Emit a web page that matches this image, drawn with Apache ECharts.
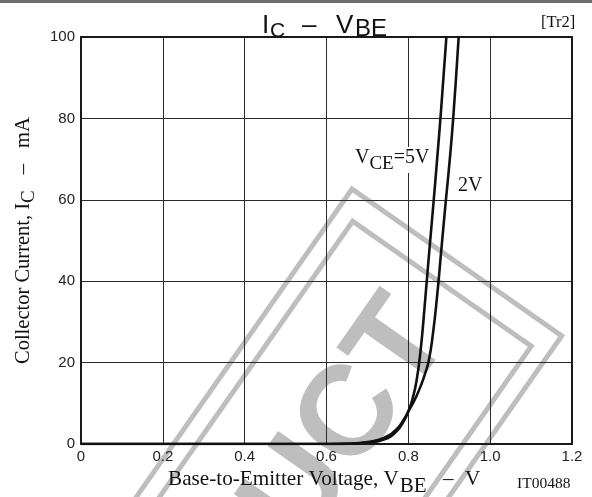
<!DOCTYPE html>
<html><head><meta charset="utf-8">
<script src="https://cdn.jsdelivr.net/npm/echarts@6/dist/echarts.min.js"></script>
<style>html,body{margin:0;padding:0;background:#fff}#c{width:592px;height:497px}</style>
</head><body><div id="c"></div>
<script>
// ---- data ----
const xTicks = [0, 0.2, 0.4, 0.6, 0.8, 1.0, 1.2];
const yTicks = [0, 20, 40, 60, 80, 100];
const vbe5 = [0, 0.6, 0.66, 0.7, 0.74, 0.77, 0.79, 0.8, 0.81, 0.82, 0.83, 0.84, 0.85, 0.86, 0.87, 0.88, 0.893];
const ic5  = [0, 0,   0.05, 0.35, 1.1, 3.0,  5.8,  8,   11,   15.5, 23,   34,   46,   57.5, 69.5, 82,   100];
const vbe2 = [0, 0.6, 0.66, 0.7, 0.74, 0.77, 0.79, 0.8, 0.81, 0.82, 0.83, 0.84, 0.85, 0.86, 0.87, 0.88, 0.89, 0.9, 0.91, 0.923];
const ic2  = [0, 0,   0.1,  0.5, 1.5,  3.5,  6.2,  8,   9.8,  11.8, 14.2, 17,   20.5, 27,   36,   47,   58,   68.5, 80.5, 100];

const serif = "'Liberation Serif','Times New Roman',serif";
const sans = "'Liberation Sans',Arial,sans-serif";
const GRAY = '#bebebe';

const mctx = document.createElement('canvas').getContext('2d');
function tw(text, font) { mctx.font = font; return mctx.measureText(text).width; }
// chain of text pieces: [text, size, family, dy, gapBefore, absoluteX]
function chain(x, y, pieces, z) {
  const out = [];
  let cx = x;
  pieces.forEach(p => {
    const font = p[1] + 'px ' + p[2];
    cx += (p[4] || 0);
    if (p[5] != null) cx = p[5];
    out.push({ type: 'text', x: cx, y: y + (p[3] || 0), z: z || 50,
      style: { text: p[0], font: font, fill: '#111', align: 'left', verticalAlign: 'middle' } });
    cx += tw(p[0], font);
  });
  return out;
}

const chart = echarts.init(document.getElementById('c'), null, { renderer: 'canvas' });
chart.setOption({
  backgroundColor: '#fff',
  animation: false,
  grid: { left: 81, right: 20, top: 37, bottom: 53, show: true, borderColor: '#1a1a1a', borderWidth: 2, z: 1 },
  xAxis: {
    type: 'value', min: xTicks[0], max: xTicks[xTicks.length - 1], interval: 0.2,
    axisLine: { show: false }, axisTick: { show: false },
    splitLine: { show: true, lineStyle: { color: '#2a2a2a', width: 1 } },
    axisLabel: { margin: 5, color: '#222', fontFamily: sans, fontSize: 15,
      formatter: v => (v === 0 ? '0' : v.toFixed(1)) }
  },
  yAxis: {
    type: 'value', min: yTicks[0], max: yTicks[yTicks.length - 1], interval: 20,
    axisLine: { show: false }, axisTick: { show: false },
    splitLine: { show: true, lineStyle: { color: '#2a2a2a', width: 1 } },
    axisLabel: { margin: 6, color: '#222', fontFamily: sans, fontSize: 15 }
  },
  series: [
    { type: 'line', name: '5V', data: vbe5.map((v, i) => [v, ic5[i]]), showSymbol: false,
      smooth: 0.5, lineStyle: { color: '#111', width: 2.6 }, z: 5 },
    { type: 'line', name: '2V', data: vbe2.map((v, i) => [v, ic2[i]]), showSymbol: false,
      smooth: 0.5, lineStyle: { color: '#111', width: 2.6 }, z: 5 }
  ],
  graphic: [].concat(
    [
      { type: 'rect', shape: { x: 0, y: 0, width: 592, height: 3 }, style: { fill: '#6e6e6e' }, z: 50 },
      { type: 'group', x: 352, y: 189, rotation: 55 * Math.PI / 180, z: -10, silent: true,
        children: [
          { type: 'rect', shape: { x: -800, y: 0, width: 800, height: 256 }, style: { fill: null, stroke: GRAY, lineWidth: 5 }, z: -10 },
          { type: 'rect', shape: { x: -774, y: 19, width: 748, height: 218 }, style: { fill: null, stroke: GRAY, lineWidth: 5 }, z: -10 },
          { type: 'text', x: -62, y: 131, z: -10, style: { text: 'PRODUCT', font: 'bold 128px ' + sans, fill: GRAY, align: 'right', verticalAlign: 'middle' } }
        ] },
      { type: 'rect', shape: { x: 350, y: 147, width: 82, height: 26 }, style: { fill: '#fff' }, z: 40 }
    ],
    // title
    chain(262, 26, [['I', 26, sans], ['C', 21, sans, 5, 0, 270], ['–', 26, sans, 0, 0, 302], ['V', 26, sans, 0, 0, 336], ['BE', 24, sans, 3, 0, 355]]),
    chain(541, 23, [['[Tr2]', 16.5, serif]]),
    // x-axis title
    chain(168, 479, [['Base-to-Emitter Voltage, V', 21.2, serif], ['BE', 21, serif, 7, 1], ['–', 21, serif, 0, 0, 443], ['V', 21.2, serif, 0, 0, 465]]),
    chain(517, 483.5, [['IT00488', 15.5, serif]]),
    // curve labels
    chain(355, 158, [['V', 20, serif], ['CE', 19, serif, 6.5, 0], ['=5V', 20, serif]]),
    chain(458, 185.5, [['2V', 20, serif]]),
    [
      { type: 'group', x: 24, y: 364, rotation: Math.PI / 2, z: 50,
        children: chain(0, 0, [['Collector Current, I', 20.5, serif], ['C', 19, serif, 5.5, 0], ['–', 20.5, serif, 0, 16], ['mA', 20.5, serif, 0, 16]]) }
    ]
  )
});
</script></body></html>
